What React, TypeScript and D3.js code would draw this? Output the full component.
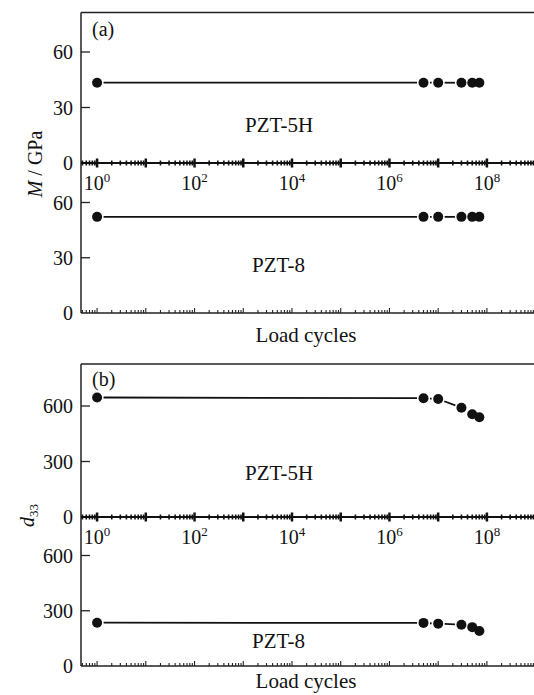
import React from 'react'
import * as d3 from 'd3'

// load cycles at which the samples were measured
const cycles = [1, 5e6, 1e7, 3e7, 5e7, 7e7]

// panel (a): modulus M in GPa
const modulus5H = [43.4, 43.4, 43.4, 43.4, 43.4, 43.4]
const modulus8 = [52.2, 52.2, 52.2, 52.2, 52.2, 52.2]

// panel (b): d33
const d33_5H = [646, 642, 638, 591, 555, 539]
const d33_8 = [235, 234, 230, 224, 211, 190]

const modTicks = [0, 30, 60]
const d33Ticks = [0, 300, 600]
const decadeLabels = [0, 2, 4, 6, 8]

const font = "'Liberation Serif', 'Times New Roman', Times, serif"

const x = d3.scaleLog().domain([Math.pow(10, -0.33), Math.pow(10, 9.5)]).range([81, 560])

const xTicks: { v: number; major: boolean }[] = []
for (let e = -1; e <= 9; e++) {
  for (let k = 1; k <= 9; k++) {
    const v = k * Math.pow(10, e)
    const [lo, hi] = x.domain()
    if (v >= lo && v <= hi) xTicks.push({ v, major: k === 1 })
  }
}

const Series = ({ values, y }) => {
  const pts = cycles.map((c, i) => [x(c), y(values[i])])
  const gap = 6.5
  const segs = []
  for (let i = 0; i < pts.length - 1; i++) {
    const [x1, y1] = pts[i]
    const [x2, y2] = pts[i + 1]
    const len = Math.hypot(x2 - x1, y2 - y1)
    if (len <= gap * 2) continue
    const ux = (x2 - x1) / len
    const uy = (y2 - y1) / len
    segs.push(
      <line key={i} x1={x1 + ux * gap} y1={y1 + uy * gap} x2={x2 - ux * gap} y2={y2 - uy * gap}
        stroke="#111" strokeWidth={1.8} />
    )
  }
  return (
    <g>
      {segs}
      {pts.map((p, i) => <circle key={i} cx={p[0]} cy={p[1]} r={5} fill="#111" />)}
    </g>
  )
}

const Panel = ({ tag, top, yUp, yLow, ticks, up, low, ylabel, tagY, labels, titleY }) => {
  const mid = yUp(0)
  const bottom = yLow(0)
  return (
    <g style={{ fontFamily: font }} fill="#111">
      {/* frame */}
      <line x1={81} x2={560} y1={top} y2={top} stroke="#222" strokeWidth={1.3} />
      <line x1={81} x2={81} y1={top} y2={bottom} stroke="#222" strokeWidth={1.5} />
      <line x1={81} x2={560} y1={bottom} y2={bottom} stroke="#222" strokeWidth={1.5} />
      {/* middle axis */}
      <line x1={81} x2={560} y1={mid} y2={mid} stroke="#111" strokeWidth={2.2} />
      {xTicks.map((t, i) => (
        <g key={i}>
          <line x1={x(t.v)} x2={x(t.v)} y1={mid - (t.major ? 4.5 : 2.5)} y2={mid + (t.major ? 4.5 : 2.5)}
            stroke="#111" strokeWidth={t.major ? 2.5 : 1.6} />
          <line x1={x(t.v)} x2={x(t.v)} y1={bottom} y2={bottom - (t.major ? 5 : 3)}
            stroke="#222" strokeWidth={1.1} />
        </g>
      ))}
      {decadeLabels.map(e => (
        <text key={e} x={x(Math.pow(10, e))} y={mid + 27} textAnchor="middle" fontSize={20}>
          10<tspan fontSize={13} dy={-8}>{e}</tspan>
        </text>
      ))}
      {/* y ticks */}
      {[yUp, yLow].map((ys, j) => (
        <g key={j}>
          {ticks.map(t => (
            <g key={t}>
              {t !== 0 && <line x1={81} x2={90} y1={ys(t)} y2={ys(t)} stroke="#222" strokeWidth={1.3} />}
              <text x={73} y={ys(t) + 7} textAnchor="end" fontSize={20}>{t}</text>
            </g>
          ))}
        </g>
      ))}
      <Series values={up} y={yUp} />
      <Series values={low} y={yLow} />
      <text x={92} y={tagY} fontSize={20}>{tag}</text>
      <text x={245} y={labels[0]} fontSize={21}>PZT-5H</text>
      <text x={252} y={labels[1]} fontSize={21}>PZT-8</text>
      <text x={306} y={titleY} textAnchor="middle" fontSize={21}>Load cycles</text>
      {ylabel}
    </g>
  )
}

export default function App() {
  const aUp = d3.scaleLinear().domain([0, 60]).range([163, 52])
  const aLow = d3.scaleLinear().domain([0, 60]).range([313, 202.5])
  const bUp = d3.scaleLinear().domain([0, 600]).range([517, 406])
  const bLow = d3.scaleLinear().domain([0, 600]).range([666, 555.5])

  return (
    <svg width={534} height={695} style={{ position: 'absolute', left: 0, top: 0, background: '#fff' }}>
      <Panel tag="(a)" top={12.5} yUp={aUp} yLow={aLow} ticks={modTicks} up={modulus5H} low={modulus8}
        tagY={36} labels={[132, 272]} titleY={342}
        ylabel={
          <text transform="translate(42,164) rotate(-90)" textAnchor="middle" fontSize={20}>
            <tspan fontStyle="italic">M</tspan> / GPa
          </text>
        } />
      <Panel tag="(b)" top={364} yUp={bUp} yLow={bLow} ticks={d33Ticks} up={d33_5H} low={d33_8}
        tagY={386} labels={[480, 648]} titleY={688}
        ylabel={
          <text transform="translate(34,527) rotate(-90)" fontSize={20}>
            <tspan fontStyle="italic">d</tspan><tspan fontSize={13} dy={4}>33</tspan>
          </text>
        } />
    </svg>
  )
}
